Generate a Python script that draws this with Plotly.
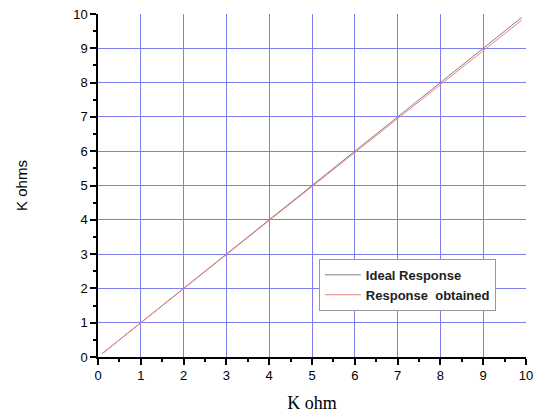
import plotly.graph_objects as go

x_ideal = [0.1, 1, 2, 3, 4, 5, 6, 7, 8, 9, 9.9]
y_ideal = [0.1, 1, 2, 3, 4, 5, 6, 7, 8, 9, 9.9]
x_obt = [0.1, 1, 2, 3, 4, 5, 6, 7, 8, 9, 9.9]
y_obt = [0.1, 1.0, 1.99, 2.98, 3.98, 4.97, 5.96, 6.96, 7.95, 8.93, 9.82]
ticks = list(range(0, 11))

fig = go.Figure()
fig.add_trace(go.Scatter(x=x_ideal, y=y_ideal, mode="lines", name="Ideal Response",
                         line=dict(color="#808080", width=1)))
fig.add_trace(go.Scatter(x=x_obt, y=y_obt, mode="lines", name="Response  obtained",
                         line=dict(color="#f08080", width=1)))

axis_common = dict(
    range=[0, 10], tickvals=ticks, ticks="outside", ticklen=6, tickwidth=1.5,
    tickcolor="black", showline=True, linecolor="black", linewidth=1.5,
    showgrid=True, gridcolor="#7e7ef0", gridwidth=1, zeroline=False,
    tickfont=dict(family="Arial", size=13, color="black"),
    minor=dict(ticks="outside", ticklen=3, dtick=0.5, tickcolor="black", showgrid=False),
    automargin=False, ticklabeloverflow="allow",
)
fig.update_xaxes(**axis_common,
                 title=dict(text="K ohm", font=dict(family="Liberation Serif", size=18, color="black"), standoff=14))
fig.update_yaxes(**axis_common,
                 title=dict(text="K ohms", font=dict(family="Arial", size=15, color="black"), standoff=42))

fig.update_layout(
    width=534, height=414,
    margin=dict(l=98, r=8, t=14, b=57),
    plot_bgcolor="white", paper_bgcolor="white",
    legend=dict(x=0.516, y=0.286, xanchor="left", yanchor="top",
                bgcolor="white", bordercolor="#999999", borderwidth=1,
                font=dict(family="Arial", size=13, color="#222222", weight="bold"),
                tracegroupgap=0, itemwidth=36, entrywidth=160),
    showlegend=True,
)
fig.write_html("out.html", config={"displayModeBar": False},
               post_script="document.body.style.margin='0';document.body.style.overflow='hidden';")
